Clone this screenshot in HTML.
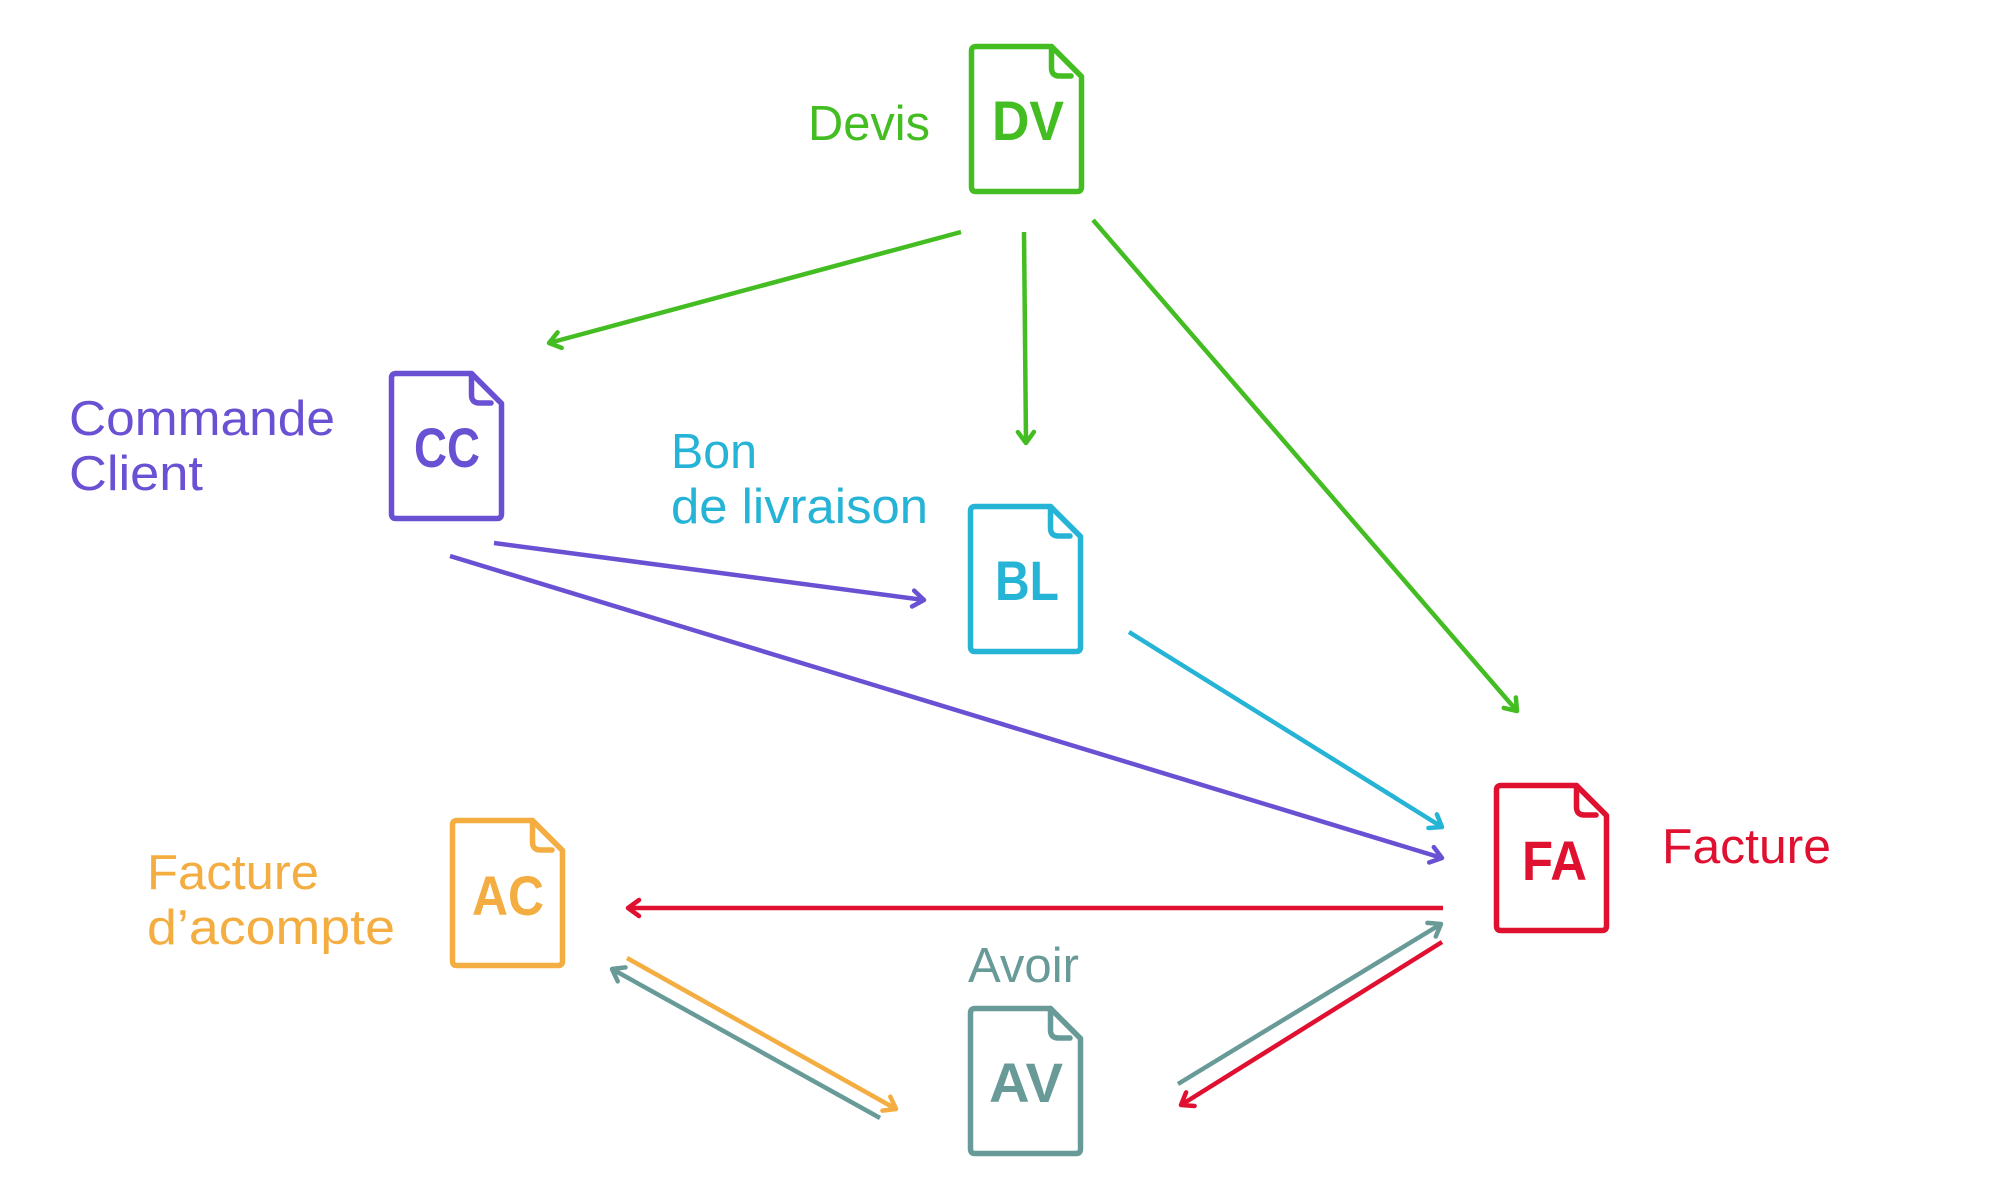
<!DOCTYPE html>
<html>
<head>
<meta charset="utf-8">
<style>
  html,body{margin:0;padding:0;background:#fff;}
  svg{display:block;}
  text{font-family:"Liberation Sans", sans-serif;}
  .lbl{font-size:49px;font-weight:400;}
  .code{font-size:56px;font-weight:700;}
  .doc{fill:#fff;stroke-width:5.5;stroke-linejoin:round;stroke-linecap:round;}
  .fold{fill:none;stroke-width:5.5;stroke-linecap:round;stroke-linejoin:round;}
  .ln{stroke-width:4.5;fill:none;}
</style>
</head>
<body>
<svg width="2000" height="1200" viewBox="0 0 2000 1200" xmlns="http://www.w3.org/2000/svg">
  <defs>
    <marker id="mg" markerUnits="userSpaceOnUse" markerWidth="30" markerHeight="30" viewBox="-15 -15 30 30" refX="0" refY="0" orient="auto">
      <path d="M-11,-8 L0,0 L-11,8" fill="none" stroke="#43bd22" stroke-width="4.5" stroke-linecap="round" stroke-linejoin="round"/>
    </marker>
    <marker id="mp" markerUnits="userSpaceOnUse" markerWidth="30" markerHeight="30" viewBox="-15 -15 30 30" refX="0" refY="0" orient="auto">
      <path d="M-11,-8 L0,0 L-11,8" fill="none" stroke="#6a50d3" stroke-width="4.5" stroke-linecap="round" stroke-linejoin="round"/>
    </marker>
    <marker id="mc" markerUnits="userSpaceOnUse" markerWidth="30" markerHeight="30" viewBox="-15 -15 30 30" refX="0" refY="0" orient="auto">
      <path d="M-11,-8 L0,0 L-11,8" fill="none" stroke="#25b3d6" stroke-width="4.5" stroke-linecap="round" stroke-linejoin="round"/>
    </marker>
    <marker id="mr" markerUnits="userSpaceOnUse" markerWidth="30" markerHeight="30" viewBox="-15 -15 30 30" refX="0" refY="0" orient="auto">
      <path d="M-11,-8 L0,0 L-11,8" fill="none" stroke="#e01030" stroke-width="4.5" stroke-linecap="round" stroke-linejoin="round"/>
    </marker>
    <marker id="mt" markerUnits="userSpaceOnUse" markerWidth="30" markerHeight="30" viewBox="-15 -15 30 30" refX="0" refY="0" orient="auto">
      <path d="M-11,-8 L0,0 L-11,8" fill="none" stroke="#689a98" stroke-width="4.5" stroke-linecap="round" stroke-linejoin="round"/>
    </marker>
    <marker id="mo" markerUnits="userSpaceOnUse" markerWidth="30" markerHeight="30" viewBox="-15 -15 30 30" refX="0" refY="0" orient="auto">
      <path d="M-11,-8 L0,0 L-11,8" fill="none" stroke="#f3ad40" stroke-width="4.5" stroke-linecap="round" stroke-linejoin="round"/>
    </marker>
  </defs>

  <!-- Connectors -->
  <line class="ln" x1="961" y1="232" x2="549" y2="343" stroke="#43bd22" marker-end="url(#mg)"/>
  <line class="ln" x1="1024" y1="232" x2="1026" y2="443" stroke="#43bd22" marker-end="url(#mg)"/>
  <line class="ln" x1="1093" y1="220" x2="1517" y2="711" stroke="#43bd22" marker-end="url(#mg)"/>

  <line class="ln" x1="494" y1="543" x2="924" y2="600" stroke="#6a50d3" marker-end="url(#mp)"/>
  <line class="ln" x1="450" y1="556" x2="1442" y2="858" stroke="#6a50d3" marker-end="url(#mp)"/>

  <line class="ln" x1="1129" y1="632" x2="1442" y2="827" stroke="#25b3d6" marker-end="url(#mc)"/>

  <line class="ln" x1="1443" y1="908" x2="628" y2="908" stroke="#e01030" marker-end="url(#mr)"/>
  <line class="ln" x1="1442" y1="942" x2="1181" y2="1105" stroke="#e01030" marker-end="url(#mr)"/>

  <line class="ln" x1="1178" y1="1084" x2="1441" y2="924" stroke="#689a98" marker-end="url(#mt)"/>
  <line class="ln" x1="880" y1="1118" x2="612" y2="969" stroke="#689a98" marker-end="url(#mt)"/>

  <line class="ln" x1="627" y1="958" x2="896" y2="1109" stroke="#f3ad40" marker-end="url(#mo)"/>

  <!-- Documents -->
  <g transform="translate(969,44)" stroke="#43bd22">
    <path class="doc" d="M82.5,2.5 L7,2.5 Q2.5,2.5 2.5,7 L2.5,143 Q2.5,147.5 7,147.5 L108,147.5 Q112.5,147.5 112.5,143 L112.5,32.5 Z"/>
    <path class="fold" d="M82.5,2.5 L82.5,24 Q82.5,32 90.5,32 L102,32"/>
  </g>
  <g transform="translate(389,371)" stroke="#6a50d3">
    <path class="doc" d="M82.5,2.5 L7,2.5 Q2.5,2.5 2.5,7 L2.5,143 Q2.5,147.5 7,147.5 L108,147.5 Q112.5,147.5 112.5,143 L112.5,32.5 Z"/>
    <path class="fold" d="M82.5,2.5 L82.5,24 Q82.5,32 90.5,32 L102,32"/>
  </g>
  <g transform="translate(968,504)" stroke="#25b3d6">
    <path class="doc" d="M82.5,2.5 L7,2.5 Q2.5,2.5 2.5,7 L2.5,143 Q2.5,147.5 7,147.5 L108,147.5 Q112.5,147.5 112.5,143 L112.5,32.5 Z"/>
    <path class="fold" d="M82.5,2.5 L82.5,24 Q82.5,32 90.5,32 L102,32"/>
  </g>
  <g transform="translate(450,818)" stroke="#f3ad40">
    <path class="doc" d="M82.5,2.5 L7,2.5 Q2.5,2.5 2.5,7 L2.5,143 Q2.5,147.5 7,147.5 L108,147.5 Q112.5,147.5 112.5,143 L112.5,32.5 Z"/>
    <path class="fold" d="M82.5,2.5 L82.5,24 Q82.5,32 90.5,32 L102,32"/>
  </g>
  <g transform="translate(968,1006)" stroke="#689a98">
    <path class="doc" d="M82.5,2.5 L7,2.5 Q2.5,2.5 2.5,7 L2.5,143 Q2.5,147.5 7,147.5 L108,147.5 Q112.5,147.5 112.5,143 L112.5,32.5 Z"/>
    <path class="fold" d="M82.5,2.5 L82.5,24 Q82.5,32 90.5,32 L102,32"/>
  </g>
  <g transform="translate(1494,783)" stroke="#e01030">
    <path class="doc" d="M82.5,2.5 L7,2.5 Q2.5,2.5 2.5,7 L2.5,143 Q2.5,147.5 7,147.5 L108,147.5 Q112.5,147.5 112.5,143 L112.5,32.5 Z"/>
    <path class="fold" d="M82.5,2.5 L82.5,24 Q82.5,32 90.5,32 L102,32"/>
  </g>

  <!-- Codes -->
  <text class="code" x="992" y="140" fill="#43bd22" textLength="72" lengthAdjust="spacingAndGlyphs">DV</text>
  <text class="code" x="414" y="467" fill="#6a50d3" textLength="66" lengthAdjust="spacingAndGlyphs">CC</text>
  <text class="code" x="995" y="600" fill="#25b3d6" textLength="64" lengthAdjust="spacingAndGlyphs">BL</text>
  <text class="code" x="472" y="915" fill="#f3ad40" textLength="72" lengthAdjust="spacingAndGlyphs">AC</text>
  <text class="code" x="989" y="1102" fill="#689a98" textLength="74" lengthAdjust="spacingAndGlyphs">AV</text>
  <text class="code" x="1522" y="880" fill="#e01030" textLength="65" lengthAdjust="spacingAndGlyphs">FA</text>

  <!-- Labels -->
  <text class="lbl" x="808" y="140" fill="#43bd22" textLength="122" lengthAdjust="spacingAndGlyphs">Devis</text>
  <text class="lbl" x="69" y="435" fill="#6a50d3" textLength="266" lengthAdjust="spacingAndGlyphs">Commande</text>
  <text class="lbl" x="69" y="490" fill="#6a50d3" textLength="134" lengthAdjust="spacingAndGlyphs">Client</text>
  <text class="lbl" x="671" y="468" fill="#25b3d6" textLength="86" lengthAdjust="spacingAndGlyphs">Bon</text>
  <text class="lbl" x="671" y="523" fill="#25b3d6" textLength="257" lengthAdjust="spacingAndGlyphs">de livraison</text>
  <text class="lbl" x="147" y="889" fill="#f3ad40" textLength="172" lengthAdjust="spacingAndGlyphs">Facture</text>
  <text class="lbl" x="147" y="944" fill="#f3ad40" textLength="248" lengthAdjust="spacingAndGlyphs">d’acompte</text>
  <text class="lbl" x="968" y="982" fill="#689a98" textLength="111" lengthAdjust="spacingAndGlyphs">Avoir</text>
  <text class="lbl" x="1662" y="863" fill="#e01030" textLength="169" lengthAdjust="spacingAndGlyphs">Facture</text>
</svg>
</body>
</html>
